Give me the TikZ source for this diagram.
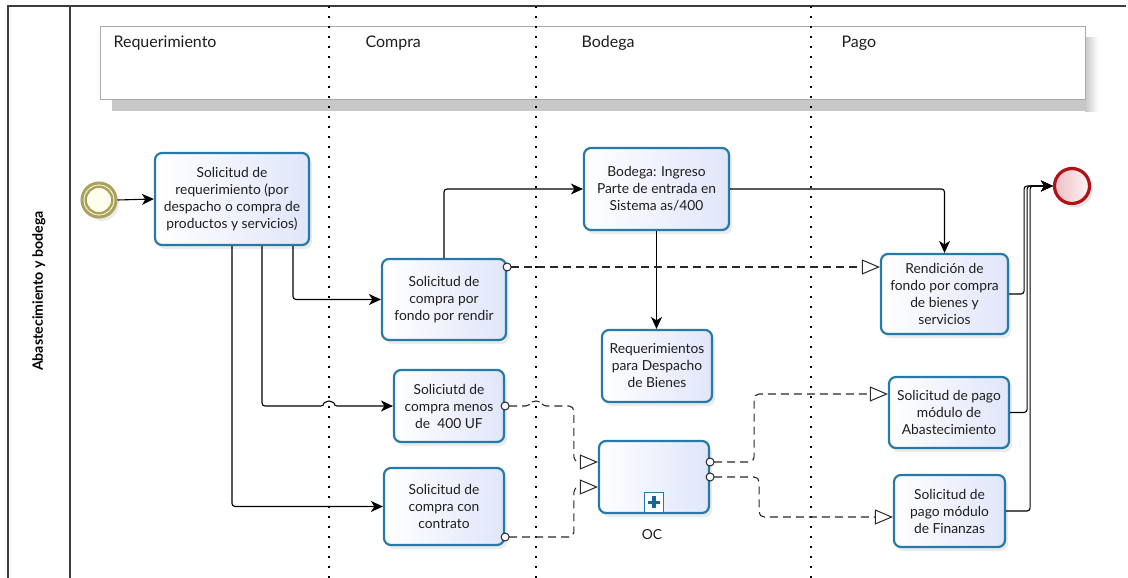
\documentclass[tikz,border=0pt]{standalone}
\usepackage{fontspec}
\setmainfont{Lato}
\usetikzlibrary{arrows.meta,calc,shadows}

\definecolor{taskblue}{RGB}{38,122,166}
\definecolor{tasklav}{RGB}{224,230,250}
\definecolor{plusblue}{RGB}{22,104,150}
\definecolor{startring}{RGB}{168,162,92}
\definecolor{startfill}{RGB}{255,253,236}
\definecolor{endring}{RGB}{176,18,22}
\definecolor{endfill}{RGB}{238,190,196}
\definecolor{framegray}{RGB}{60,60,60}
\definecolor{headborder}{RGB}{170,170,170}
\definecolor{headshadow}{RGB}{200,200,200}
\definecolor{msgline}{RGB}{40,40,40}
\definecolor{txt}{RGB}{30,30,30}

\begin{document}
\begin{tikzpicture}[x=1pt,y=-1pt,
  task/.style={draw=taskblue, line width=2.2pt, rounded corners=7pt,
    left color=white, right color=tasklav, align=center, text=txt,
    font=\fontsize{13.8}{17}\selectfont, inner sep=2pt,
    drop shadow={shadow xshift=3pt, shadow yshift=-4pt, opacity=0.16}},
  lanelabel/.style={anchor=base west, text=txt, font=\fontsize{16}{19}\selectfont},
  seq/.style={draw=black, line width=1.1pt, rounded corners=3pt,
    -{Stealth[length=12pt,width=11pt,inset=3.5pt]}},
  msg/.style={draw=msgline, line width=1.1pt, dash pattern=on 8pt off 5pt,
    rounded corners=5pt, shorten <=-4.5pt,
    {Circle[fill=white,length=9pt,width=9pt,line width=1pt]}-{Triangle[fill=white,length=18pt,width=15pt,line width=1pt]}},
  lanesep/.style={line width=2.4pt, dash pattern=on 2.4pt off 7.6pt},
]
\useasboundingbox (0,0) rectangle (1128,578);

% pool frame
\draw[framegray, line width=1.4pt] (8,578) -- (8,6) -- (1126,6);
\draw[framegray, line width=1.4pt] (70,6) -- (70,578);
\node[rotate=90, text=black, font=\bfseries\fontsize{14.2}{17}\selectfont] (pool) at (39,291) {Abastecimiento y bodega};

% lane header band with its shadow
\fill[headshadow] (112,38) rectangle (1086,111);
\shade[left color=headshadow, right color=white] (1085,38) rectangle (1098,111);
\node[draw=headborder, line width=1.3pt, fill=white, minimum width=985, minimum height=73,
  anchor=north west, inner sep=0] (head) at (100,26) {};
\node[lanelabel] (lreq) at (110,48) {Requerimiento};
\node[lanelabel] (lcom) at (362,48) {Compra};
\node[lanelabel] (lbod) at (578,48) {Bodega};
\node[lanelabel] (lpag) at (838,48) {Pago};

% lane separators
\coordinate (sepA) at (329,6);  \coordinate (sepAb) at (329,578);
\coordinate (sepB) at (536,6);  \coordinate (sepBb) at (536,578);
\coordinate (sepC) at (811,6);  \coordinate (sepCb) at (811,578);
\draw[lanesep] (sepA) -- (sepAb);
\draw[lanesep] (sepB) -- (sepBb);
\draw[lanesep] (sepC) -- (sepCb);

% events
\node[circle, draw=startring, line width=3pt, fill=startfill, minimum size=34, inner sep=0,
  drop shadow={shadow xshift=3pt, shadow yshift=-4pt, opacity=0.16}] (start) at (99,200) {};
\draw[startring, line width=2.4pt] (start.center) circle[radius=13.3pt];
\node[circle, draw=endring, line width=3.2pt, left color=endfill, right color=white!85!endfill,
  minimum size=35, inner sep=0,
  drop shadow={shadow xshift=3pt, shadow yshift=-4pt, opacity=0.2}] (endev) at (1072,186) {};

% tasks
\node[task, minimum width=154, minimum height=92] (t1) at (232,199)
  {Solicitud de\\requerimiento (por\\despacho o compra de\\productos y servicios)};
\node[task, minimum width=124, minimum height=81] (fondo) at (444,299.5)
  {Solicitud de\\compra por\\fondo por rendir};
\node[task, minimum width=110, minimum height=72] (menos) at (449,406)
  {Soliciutd de\\compra menos\\de\ \ 400 UF};
\node[task, minimum width=120, minimum height=77] (contrato) at (444,506.5)
  {Solicitud de\\compra con\\contrato};
\node[task, minimum width=145, minimum height=82] (bodega) at (656.5,189)
  {Bodega: Ingreso\\Parte de entrada en\\Sistema as/400};
\node[task, minimum width=110, minimum height=72] (req) at (657,366)
  {Requerimientos\\para Despacho\\de Bienes};
\node[task, minimum width=110, minimum height=72] (oc) at (654,477) {};
\node[task, minimum width=127, minimum height=80] (rend) at (944.5,294)
  {Rendición de\\fondo por compra\\de bienes y\\servicios};
\node[task, minimum width=120, minimum height=71] (abast) at (949,412.5)
  {Solicitud de pago\\módulo de\\Abastecimiento};
\node[task, minimum width=111, minimum height=72] (fin) at (949.5,511)
  {Solicitud de\\pago módulo\\de Finanzas};

% sub-process marker and label
\node[draw=taskblue, line width=1.3pt, fill=white, minimum width=19, minimum height=20,
  inner sep=0, anchor=south] (ocmark) at ([yshift=1.1pt]oc.south) {};
\draw[plusblue, line width=3.6pt] ($(ocmark.center)+(-6pt,0)$) -- ($(ocmark.center)+(6pt,0)$);
\draw[plusblue, line width=3.6pt] ($(ocmark.center)+(0,-6pt)$) -- ($(ocmark.center)+(0,6pt)$);
\node[text=txt, font=\fontsize{13.8}{17}\selectfont] (oclabel) at (652,535) {OC};

% sequence flows
\draw[seq] (start.east) -- (t1.west);
\draw[seq] ([xshift=61pt]t1.south) |- (fondo.west);
\draw[seq] ([xshift=30pt]t1.south) |- ($(sepA |- menos.west)+(-5pt,0)$)
  arc[start angle=180, end angle=0, radius=5pt] -- (menos.west);
\draw[seq] (t1.south) |- (contrato.west);
\draw[seq] (fondo.north) |- (bodega.west);
\draw[seq] (bodega.east) -| (rend.north);
\draw[seq] (bodega.south) -- (bodega.south |- req.north);
\draw[seq] (rend.east) -- ++(15pt,0) |- (endev.west);
\draw[seq] (abast.east) -- ++(17pt,0) |- (endev.west);
\draw[seq] (fin.east) -- ++(24pt,0) |- (endev.west);

% message flows
\coordinate (ocin1) at ([yshift=15pt]oc.west);
\coordinate (ocin2) at ([yshift=-10pt]oc.west);
\draw[msg] ([yshift=32.5pt]fondo.east) -- ([yshift=32.5pt]fondo.east -| rend.west);
\draw[msg] (menos.east) -- ($(sepB |- menos.east)+(-5pt,0)$)
  arc[start angle=180, end angle=0, radius=5pt] -| ($(ocin1)+(-24pt,0)$) -- (ocin1);
\draw[msg] ([yshift=-30.5pt]contrato.east) -| ($(ocin2)+(-24pt,0)$) -- (ocin2);
\draw[msg] ([yshift=15pt]oc.east) -- ++(44pt,0) |- ([yshift=18.5pt]abast.west);
\draw[msg] (oc.east) -- ++(49pt,0) |- ([yshift=-6pt]fin.west);
\end{tikzpicture}
\end{document}
